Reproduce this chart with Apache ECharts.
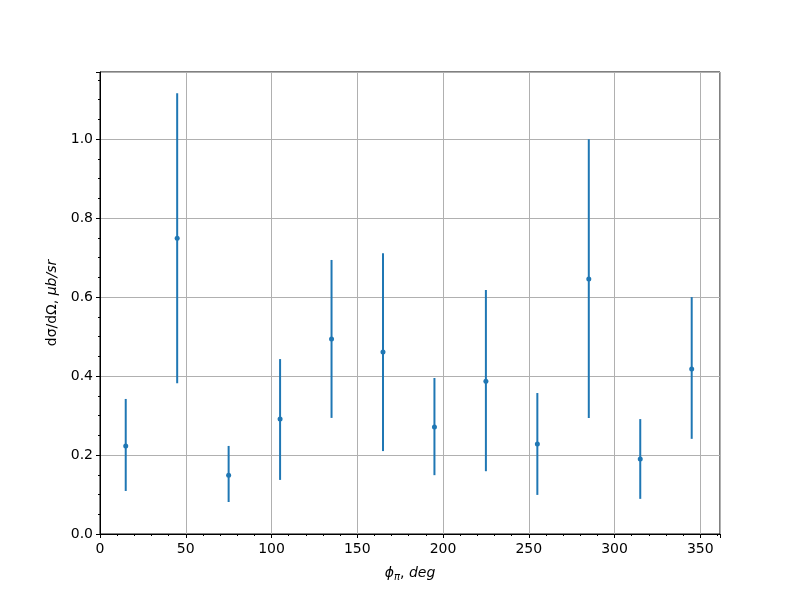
<!DOCTYPE html>
<html>
<head>
<meta charset="utf-8">
<script src="https://cdn.jsdelivr.net/npm/echarts@6/dist/echarts.min.js"></script>
<style>html,body{margin:0;padding:0;background:#fff}#c{width:800px;height:600px}</style>
</head>
<body>
<div id="c"></div>
<script>
const phi = [15, 45, 75, 105, 135, 165, 195, 225, 255, 285, 315, 345];
const sigma = [0.223, 0.749, 0.149, 0.291, 0.494, 0.461, 0.271, 0.387, 0.228, 0.646, 0.190, 0.418];
const errLow = [0.109, 0.382, 0.081, 0.137, 0.294, 0.210, 0.149, 0.159, 0.099, 0.294, 0.089, 0.241];
const errHigh = [0.342, 1.116, 0.223, 0.443, 0.694, 0.711, 0.395, 0.618, 0.357, 1.000, 0.291, 0.600];

const color = '#1f77b4';
const font = 'DejaVu Sans';
const chart = echarts.init(document.getElementById('c'));
const errData = phi.map((p, i) => [p, errLow[i], errHigh[i]]);
const ptData = phi.map((p, i) => [p, sigma[i]]);

chart.setOption({
  animation: false,
  backgroundColor: '#fff',
  grid: { left: 100, right: 80, top: 72, bottom: 66, show: true, borderColor: '#000', borderWidth: 1, backgroundColor: 'transparent' },
  xAxis: {
    type: 'value', min: 0, max: 361.5, interval: 50,
    name: '{i|ϕ}{s|π}{n|, }{i|deg}', nameLocation: 'middle', nameGap: 31,
    nameTextStyle: { rich: {
      i: { fontFamily: font, fontStyle: 'italic', fontSize: 14, color: '#000' },
      s: { fontFamily: font, fontStyle: 'italic', fontSize: 10, color: '#000', verticalAlign: 'bottom', padding: [7, 0, 0, 0] },
      n: { fontFamily: font, fontSize: 14, color: '#000' }
    } },
    axisLine: { show: true, onZero: false, lineStyle: { color: '#000', width: 1 } },
    axisTick: { show: true, inside: false, length: 4, lineStyle: { color: '#000' } },
    minorTick: { show: true, splitNumber: 5, length: 2, lineStyle: { color: '#000' } },
    axisLabel: { color: '#000', fontFamily: font, fontSize: 14, margin: 8, showMaxLabel: false },
    splitLine: { show: true, lineStyle: { color: '#b0b0b0', width: 1 } }
  },
  yAxis: {
    type: 'value', min: 0, max: 1.17, interval: 0.2,
    name: '{n|dσ/dΩ, }{i|μb/sr}', nameLocation: 'middle', nameGap: 40,
    nameTextStyle: { rich: {
      i: { fontFamily: font, fontStyle: 'italic', fontSize: 14, color: '#000' },
      n: { fontFamily: font, fontSize: 14, color: '#000' }
    } },
    axisLine: { show: true, onZero: false, lineStyle: { color: '#000', width: 1 } },
    axisTick: { show: true, length: 4, lineStyle: { color: '#000' } },
    minorTick: { show: true, splitNumber: 4, length: 2, lineStyle: { color: '#000' } },
    axisLabel: { color: '#000', fontFamily: font, fontSize: 14, margin: 7, showMaxLabel: false,
      formatter: v => v.toFixed(1) },
    splitLine: { show: true, lineStyle: { color: '#b0b0b0', width: 1 } }
  },
  series: [
    {
      type: 'custom',
      data: errData,
      renderItem: (params, api) => {
        const x = api.value(0);
        const lo = api.coord([x, api.value(1)]);
        const hi = api.coord([x, api.value(2)]);
        return { type: 'line', shape: { x1: lo[0], y1: lo[1], x2: hi[0], y2: hi[1] },
          style: { stroke: color, lineWidth: 2 } };
      },
      encode: { x: 0, y: [1, 2] },
      z: 2
    },
    {
      type: 'scatter',
      data: ptData,
      symbol: 'circle',
      symbolSize: 5,
      itemStyle: { color: color, opacity: 1 },
      z: 3
    }
  ]
});
</script>
</body>
</html>
